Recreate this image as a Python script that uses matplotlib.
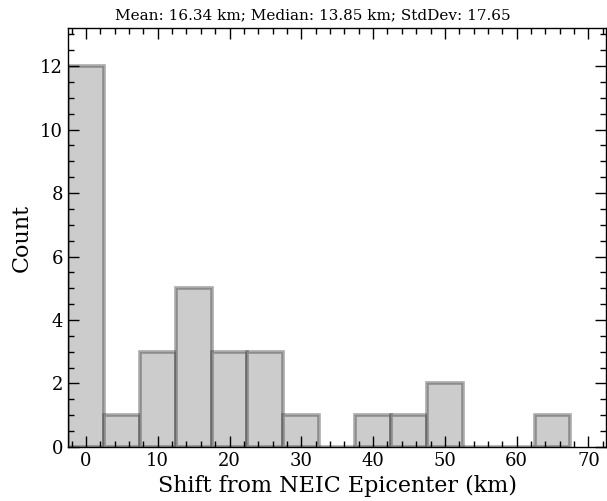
import numpy as np
import matplotlib
matplotlib.use("Agg")
import matplotlib.pyplot as plt
from matplotlib.ticker import MultipleLocator

# Histogram of epicenter shifts, 5 km bins
bin_centers = [0, 5, 10, 15, 20, 25, 30, 35, 40, 45, 50, 55, 60, 65]
counts = [12, 1, 3, 5, 3, 3, 1, 0, 1, 1, 2, 0, 0, 1]
bin_width = 5
title_text = "Mean: 16.34 km; Median: 13.85 km; StdDev: 17.65"
x_label = "Shift from NEIC Epicenter (km)"
y_label = "Count"

plt.rcParams["font.family"] = "DejaVu Serif"
plt.rcParams["mathtext.fontset"] = "dejavuserif"

fig = plt.figure(figsize=(6.07, 5.01), dpi=100)
ax = fig.add_axes([0.112, 0.108, 0.887, 0.836])

ax.bar(bin_centers, counts, width=bin_width, align="center",
       facecolor="#cccccc", edgecolor=(0.25, 0.25, 0.25, 0.45), linewidth=2.6)

ax.set_xlim(-2.5, 72.5)
ax.set_ylim(0, 13.2)
ax.xaxis.set_major_locator(MultipleLocator(10))
ax.xaxis.set_minor_locator(MultipleLocator(2))
ax.yaxis.set_major_locator(MultipleLocator(2))
ax.yaxis.set_minor_locator(MultipleLocator(0.5))
ax.tick_params(which="both", direction="in", top=True, right=True)
ax.tick_params(which="major", length=8, width=1, labelsize=13)
ax.tick_params(which="minor", length=4, width=1)
for s in ax.spines.values():
    s.set_linewidth(1.0)

ax.set_xlabel(x_label, fontsize=16, labelpad=4)
ax.set_ylabel(y_label, fontsize=16, labelpad=5)
fig.text(313 / 607, 1 - 15 / 501, title_text, ha="center", va="center", fontsize=11)

fig.savefig("out.png", dpi=100)
